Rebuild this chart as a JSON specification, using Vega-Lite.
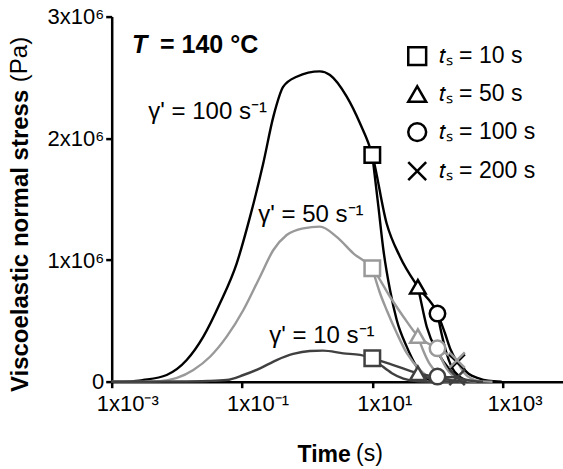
{
  "$schema": "https://vega.github.io/schema/vega-lite/v6.json",
  "width": 451.3,
  "height": 365.1,
  "autosize": {"type": "none"},
  "padding": {"left": 111.7, "top": 16.6, "right": 0, "bottom": 87.3},
  "background": "white",
  "config": {
    "view": {"stroke": null},
    "font": "Liberation Sans",
    "axis": {
      "domainColor": "black", "domainWidth": 2.5,
      "tickColor": "black", "tickWidth": 2.5, "tickSize": 6,
      "grid": false,
      "labelFont": "Liberation Sans", "labelFontSize": 22, "labelColor": "black",
      "titleFont": "Liberation Sans", "titleColor": "black",
      "labelFlush": false, "labelOverlap": false
    },
    "legend": {"symbolStrokeColor": "black", "symbolFillColor": "white", "symbolStrokeWidth": 2.5, "symbolOpacity": 1}
  },
  "resolve": {"scale": {"shape": "independent"}, "legend": {"shape": "independent"}},
  "datasets": {
    "curves": [
      {"id":"100-g","g":"100","t":0.001,"v":0},{"id":"100-g","g":"100","t":0.002,"v":3000},{"id":"100-g","g":"100","t":0.00305,"v":14000},{"id":"100-g","g":"100","t":0.00698,"v":55000},{"id":"100-g","g":"100","t":0.01416,"v":178000},{"id":"100-g","g":"100","t":0.0255,"v":370000},{"id":"100-g","g":"100","t":0.0459,"v":644000},{"id":"100-g","g":"100","t":0.083,"v":973000},{"id":"100-g","g":"100","t":0.133,"v":1356000},{"id":"100-g","g":"100","t":0.212,"v":1795000},{"id":"100-g","g":"100","t":0.303,"v":2178000},{"id":"100-g","g":"100","t":0.43,"v":2424000},{"id":"100-g","g":"100","t":0.69,"v":2506000},{"id":"100-g","g":"100","t":1.57,"v":2550000},{"id":"100-g","g":"100","t":2.24,"v":2520000},{"id":"100-g","g":"100","t":4.05,"v":2342000},{"id":"100-g","g":"100","t":6.47,"v":2123000},{"id":"100-g","g":"100","t":10,"v":1863000},{"id":"100-g","g":"100","t":16.6,"v":1300000},{"id":"100-g","g":"100","t":26.6,"v":1027000},{"id":"100-g","g":"100","t":50,"v":780000},{"id":"100-g","g":"100","t":100,"v":560000},{"id":"100-g","g":"100","t":130,"v":400000},{"id":"100-g","g":"100","t":160,"v":260000},{"id":"100-g","g":"100","t":200,"v":160000},
      {"id":"100-r10","g":"100","t":10,"v":1863000},{"id":"100-r10","g":"100","t":12.4,"v":1438000},{"id":"100-r10","g":"100","t":14.8,"v":1082000},{"id":"100-r10","g":"100","t":18.7,"v":753000},{"id":"100-r10","g":"100","t":23.7,"v":507000},{"id":"100-r10","g":"100","t":33.7,"v":288000},{"id":"100-r10","g":"100","t":48,"v":123000},{"id":"100-r10","g":"100","t":77,"v":14000},{"id":"100-r10","g":"100","t":130,"v":0},
      {"id":"100-r50","g":"100","t":50,"v":780000},{"id":"100-r50","g":"100","t":54,"v":698000},{"id":"100-r50","g":"100","t":68.4,"v":452000},{"id":"100-r50","g":"100","t":103,"v":233000},{"id":"100-r50","g":"100","t":156,"v":96000},{"id":"100-r50","g":"100","t":230,"v":20000},{"id":"100-r50","g":"100","t":350,"v":0},
      {"id":"100-r100","g":"100","t":100,"v":560000},{"id":"100-r100","g":"100","t":115,"v":400000},{"id":"100-r100","g":"100","t":135,"v":250000},{"id":"100-r100","g":"100","t":165,"v":120000},{"id":"100-r100","g":"100","t":220,"v":40000},{"id":"100-r100","g":"100","t":320,"v":5000},{"id":"100-r100","g":"100","t":450,"v":0},
      {"id":"100-r200","g":"100","t":200,"v":160000},{"id":"100-r200","g":"100","t":235,"v":123000},{"id":"100-r200","g":"100","t":300,"v":65000},{"id":"100-r200","g":"100","t":420,"v":30000},{"id":"100-r200","g":"100","t":600,"v":8000},{"id":"100-r200","g":"100","t":970,"v":0},
      {"id":"50-g","g":"50","t":0.001,"v":0},{"id":"50-g","g":"50","t":0.003,"v":1000},{"id":"50-g","g":"50","t":0.0055,"v":5000},{"id":"50-g","g":"50","t":0.0179,"v":96000},{"id":"50-g","g":"50","t":0.0323,"v":205000},{"id":"50-g","g":"50","t":0.0582,"v":370000},{"id":"50-g","g":"50","t":0.105,"v":589000},{"id":"50-g","g":"50","t":0.189,"v":863000},{"id":"50-g","g":"50","t":0.303,"v":1082000},{"id":"50-g","g":"50","t":0.485,"v":1205000},{"id":"50-g","g":"50","t":0.873,"v":1260000},{"id":"50-g","g":"50","t":1.57,"v":1274000},{"id":"50-g","g":"50","t":2.84,"v":1190000},{"id":"50-g","g":"50","t":5.11,"v":1055000},{"id":"50-g","g":"50","t":10,"v":932000},{"id":"50-g","g":"50","t":18.7,"v":698000},{"id":"50-g","g":"50","t":30,"v":534000},{"id":"50-g","g":"50","t":50,"v":375000},{"id":"50-g","g":"50","t":100,"v":274000},{"id":"50-g","g":"50","t":200,"v":178000},
      {"id":"50-r10","g":"50","t":10,"v":932000},{"id":"50-r10","g":"50","t":13.1,"v":729000},{"id":"50-r10","g":"50","t":16.6,"v":589000},{"id":"50-r10","g":"50","t":23.7,"v":400000},{"id":"50-r10","g":"50","t":33.7,"v":236000},{"id":"50-r10","g":"50","t":54,"v":96000},{"id":"50-r10","g":"50","t":97,"v":14000},{"id":"50-r10","g":"50","t":150,"v":0},
      {"id":"50-r50","g":"50","t":50,"v":375000},{"id":"50-r50","g":"50","t":60,"v":260000},{"id":"50-r50","g":"50","t":75,"v":150000},{"id":"50-r50","g":"50","t":100,"v":70000},{"id":"50-r50","g":"50","t":150,"v":20000},{"id":"50-r50","g":"50","t":250,"v":0},
      {"id":"50-r100","g":"50","t":100,"v":274000},{"id":"50-r100","g":"50","t":115,"v":190000},{"id":"50-r100","g":"50","t":135,"v":115000},{"id":"50-r100","g":"50","t":170,"v":50000},{"id":"50-r100","g":"50","t":250,"v":8000},{"id":"50-r100","g":"50","t":400,"v":0},
      {"id":"50-r200","g":"50","t":200,"v":178000},{"id":"50-r200","g":"50","t":225,"v":120000},{"id":"50-r200","g":"50","t":260,"v":70000},{"id":"50-r200","g":"50","t":320,"v":30000},{"id":"50-r200","g":"50","t":450,"v":5000},{"id":"50-r200","g":"50","t":700,"v":0},
      {"id":"10-g","g":"10","t":0.001,"v":0},{"id":"10-g","g":"10","t":0.01,"v":2000},{"id":"10-g","g":"10","t":0.03,"v":6000},{"id":"10-g","g":"10","t":0.058,"v":14000},{"id":"10-g","g":"10","t":0.105,"v":55000},{"id":"10-g","g":"10","t":0.189,"v":110000},{"id":"10-g","g":"10","t":0.34,"v":178000},{"id":"10-g","g":"10","t":0.61,"v":228000},{"id":"10-g","g":"10","t":1.1,"v":252000},{"id":"10-g","g":"10","t":1.75,"v":255000},{"id":"10-g","g":"10","t":3.6,"v":233000},{"id":"10-g","g":"10","t":6.5,"v":220000},{"id":"10-g","g":"10","t":10,"v":192000},{"id":"10-g","g":"10","t":21,"v":137000},{"id":"10-g","g":"10","t":50,"v":69000},{"id":"10-g","g":"10","t":100,"v":42000},{"id":"10-g","g":"10","t":200,"v":36000},
      {"id":"10-r10","g":"10","t":10,"v":192000},{"id":"10-r10","g":"10","t":14,"v":130000},{"id":"10-r10","g":"10","t":20,"v":70000},{"id":"10-r10","g":"10","t":30,"v":25000},{"id":"10-r10","g":"10","t":50,"v":3000},{"id":"10-r10","g":"10","t":80,"v":0},
      {"id":"10-r50","g":"10","t":50,"v":69000},{"id":"10-r50","g":"10","t":65,"v":40000},{"id":"10-r50","g":"10","t":90,"v":15000},{"id":"10-r50","g":"10","t":140,"v":2000},{"id":"10-r50","g":"10","t":200,"v":0},
      {"id":"10-r100","g":"10","t":100,"v":42000},{"id":"10-r100","g":"10","t":130,"v":25000},{"id":"10-r100","g":"10","t":180,"v":8000},{"id":"10-r100","g":"10","t":280,"v":0},
      {"id":"10-r200","g":"10","t":200,"v":36000},{"id":"10-r200","g":"10","t":260,"v":18000},{"id":"10-r200","g":"10","t":350,"v":6000},{"id":"10-r200","g":"10","t":500,"v":0}
    ],
    "markers": [
      {"g":"100","ts":"10","t":10,"v":1863000},{"g":"100","ts":"50","t":50,"v":780000},{"g":"100","ts":"100","t":100,"v":560000},{"g":"100","ts":"200","t":200,"v":160000},
      {"g":"10","ts":"10","t":10,"v":192000},{"g":"10","ts":"50","t":50,"v":69000},{"g":"10","ts":"100","t":100,"v":42000},{"g":"10","ts":"200","t":200,"v":36000},
      {"g":"50","ts":"10","t":10,"v":932000},{"g":"50","ts":"50","t":50,"v":375000},{"g":"50","ts":"100","t":100,"v":274000},{"g":"50","ts":"200","t":200,"v":178000}
    ],
    "rates": [
      {"label":"γ' = 100 s⁻¹","t":0.00365,"v":2156000},
      {"label":"γ' = 50 s⁻¹","t":0.178,"v":1315000},
      {"label":"γ' = 10 s⁻¹","t":0.262,"v":320000}
    ]
  },
  "encoding": {
    "x": {
      "field": "t", "type": "quantitative",
      "scale": {"type": "log", "domain": [0.001, 8450], "nice": false},
      "axis": {
        "values": [0.001, 0.1, 10, 1000],
        "labelExpr": "round(log(datum.value)/LN10) == -3 ? '1x10⁻³' : round(log(datum.value)/LN10) == -1 ? '1x10⁻¹' : round(log(datum.value)/LN10) == 1 ? '1x10¹' : '1x10³'",
        "labelAlign": "left", "labelOffset": -15.5, "labelBaseline": "alphabetic", "labelPadding": 23,
        "title": "Time", "titleFontSize": 23, "titleFontWeight": "bold",
        "titleX": 185.3, "titleY": 79.3, "titleAlign": "left", "titleBaseline": "alphabetic", "titleAnchor": "start"
      }
    },
    "y": {
      "field": "v", "type": "quantitative",
      "scale": {"domain": [0, 3000000], "nice": false, "zero": false},
      "axis": {
        "values": [0, 1000000, 2000000, 3000000],
        "labelExpr": "datum.value == 0 ? '0' : format(datum.value/1000000, 'd') + 'x10⁶'",
        "labelPadding": 2, "labelBaseline": "middle",
        "title": "Viscoelastic normal stress", "titleFontSize": 24, "titleFontWeight": "bold",
        "titleAngle": 270, "titleX": -84.7, "titleY": 375, "titleAlign": "left", "titleBaseline": "alphabetic", "titleAnchor": "start"
      }
    }
  },
  "layer": [
    {
      "data": {"values": [{}]},
      "mark": {"type": "rule", "color": "black", "strokeWidth": 2.5},
      "encoding": {
        "x": {"datum": 0.001, "type": "quantitative"},
        "x2": {"datum": 8450},
        "y": {"datum": 3000000, "type": "quantitative"}
      }
    },
    {
      "data": {"name": "curves"},
      "mark": {"type": "line", "strokeWidth": 2.4, "interpolate": "monotone"},
      "encoding": {
        "detail": {"field": "id", "type": "nominal"},
        "color": {"field": "g", "type": "nominal", "scale": {"domain": ["100", "50", "10"], "range": ["#000000", "#999999", "#404040"]}, "legend": null}
      }
    },
    {
      "data": {"name": "markers"},
      "mark": {"type": "point", "filled": true, "color": "white", "opacity": 1, "size": 240},
      "encoding": {
        "shape": {
          "field": "ts", "type": "nominal",
          "scale": {"domain": ["10", "50", "100", "200"], "range": ["square", "triangle-up", "circle", "M-1,-1L1,1M-1,1L1,-1"]},
          "legend": null
        }
      }
    },
    {
      "data": {"name": "markers"},
      "mark": {"type": "point", "filled": false, "opacity": 1, "strokeWidth": 2.5, "size": 240},
      "encoding": {
        "color": {"field": "g", "type": "nominal", "scale": {"domain": ["100", "50", "10"], "range": ["#000000", "#999999", "#404040"]}, "legend": null},
        "shape": {
          "field": "ts", "type": "nominal",
          "scale": {"domain": ["10", "50", "100", "200"], "range": ["square", "triangle-up", "circle", "M-1,-1L1,1M-1,1L1,-1"]},
          "legend": {
            "orient": "none", "legendX": 294, "legendY": 28, "title": null, "padding": 0,
            "labelExpr": "'𝑡ₛ = ' + datum.label + ' s'",
            "labelFont": "Liberation Sans", "labelFontSize": 23, "labelColor": "black",
            "symbolSize": 320,
            "rowPadding": 10, "labelOffset": 10
          }
        }
      }
    },
    {
      "data": {"name": "rates"},
      "mark": {"type": "text", "align": "left", "baseline": "alphabetic", "fontSize": 24, "font": "Liberation Sans", "color": "black"},
      "encoding": {"text": {"field": "label"}}
    },
    {
      "data": {"values": [{"label": "T", "t": 0.00205, "v": 2698000}]},
      "mark": {"type": "text", "align": "left", "baseline": "alphabetic", "fontSize": 25, "fontWeight": "bold", "fontStyle": "italic", "font": "Liberation Sans", "color": "black"},
      "encoding": {"text": {"field": "label"}}
    },
    {
      "data": {"values": [{"label": "= 140 °C", "t": 0.00551, "v": 2698000}]},
      "mark": {"type": "text", "align": "left", "baseline": "alphabetic", "fontSize": 25, "fontWeight": "bold", "font": "Liberation Sans", "color": "black"},
      "encoding": {"text": {"field": "label"}}
    },
    {
      "data": {"values": [{"label": "(s)", "t": 5.62, "v": -651600}]},
      "mark": {"type": "text", "align": "left", "baseline": "alphabetic", "fontSize": 23, "font": "Liberation Sans", "color": "black"},
      "encoding": {"text": {"field": "label"}}
    },
    {
      "data": {"values": [{"label": "(Pa)", "t": 0.0000501, "v": 2461000}]},
      "mark": {"type": "text", "align": "left", "baseline": "alphabetic", "angle": 270, "fontSize": 24, "font": "Liberation Sans", "color": "black"},
      "encoding": {"text": {"field": "label"}}
    }
  ]
}
